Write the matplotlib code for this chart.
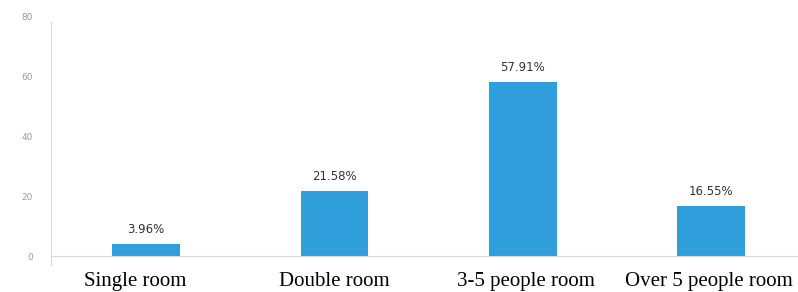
import matplotlib
matplotlib.use("Agg")
import matplotlib.pyplot as plt
import matplotlib.transforms as mtransforms

categories = ["Single room", "Double room", "3-5 people room", "Over 5 people room"]
values = [3.96, 21.58, 57.91, 16.55]
value_labels = ["3.96%", "21.58%", "57.91%", "16.55%"]
yticks = [0, 20, 40, 60, 80]

fig = plt.figure(figsize=(7.98, 2.92), dpi=100)
ax = fig.add_axes([51/798, 36/292, 747/798, 240/292])
x = list(range(len(categories)))
bars = ax.bar(x, values, width=0.36, color="#2f9edb")
ax.set_xlim(-0.505, 3.46)
ax.set_ylim(0, 80)
ax.set_yticks(yticks)
ax.set_yticklabels([str(t) for t in yticks], fontsize=6.5, color="#9a9a9a")
ax.tick_params(axis="y", length=0, pad=13)
ax.set_xticks(x)
ax.set_xticklabels(categories, family="Liberation Serif", fontsize=15, color="black")
ax.tick_params(axis="x", length=0, pad=11.5)
# small horizontal shifts of category labels as in the reference
shifts_px = [-11, 0, 3, -2]
for lab, dx in zip(ax.get_xticklabels(), shifts_px):
    lab.set_transform(lab.get_transform() + mtransforms.ScaledTranslation(dx/100, 0, fig.dpi_scale_trans))
for s in ["top", "right"]:
    ax.spines[s].set_visible(False)
ax.spines["left"].set_color("#d9d9d9")
ax.spines["bottom"].set_color("#d9d9d9")
ax.spines["left"].set_bounds(-3, 78)
for xi, v, lab in zip(x, values, value_labels):
    ax.annotate(lab, (xi, v), xytext=(0, 10.5), textcoords="offset points",
                ha="center", va="center", fontsize=8.5, color="#333333")
fig.savefig("out.png", dpi=100)
